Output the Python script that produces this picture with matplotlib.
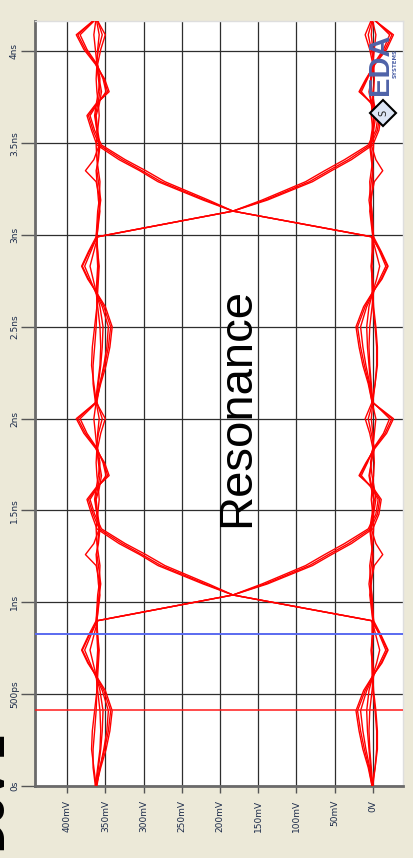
import numpy as np
import matplotlib
matplotlib.use('Agg')
import matplotlib.pyplot as plt
from matplotlib.patches import Polygon

# time knots inside one unit interval (ns)
knot_t = [0.00, 0.10, 0.20, 0.30, 0.41, 0.52, 0.60, 0.67, 0.74, 0.82, 0.90, 1.04, 1.10,
          1.20, 1.26, 1.32, 1.40, 1.48, 1.56, 1.62, 1.69, 1.76, 1.84, 1.92, 2.00, 2.09]
ui = 2.09

high_1 = [362, 365, 368, 367, 364, 361, 360, 359, 358, 360, 362, 360, 358, 357, 359, 361, 362, 360, 358, 359, 361, 362, 361, 360, 358, 362]
high_2 = [363, 360, 357, 356, 357, 360, 362, 361, 360, 361, 361, 358, 357, 362, 376, 365, 358, 361, 364, 362, 359, 357, 360, 356, 350, 362]
high_3 = [362, 356, 349, 344, 341, 350, 362, 373, 381, 372, 362, 358, 356, 359, 361, 360, 358, 361, 363, 360, 357, 359, 361, 363, 365, 362]
high_4 = [361, 357, 352, 348, 346, 354, 363, 370, 377, 369, 361, 357, 359, 361, 362, 359, 357, 360, 362, 358, 355, 358, 362, 359, 354, 361]

low_1 = [1, -3, -6, -6, -4, -1, 0, 1, 2, 0, -1, 1, 3, 4, 2, 0, -1, 0, 2, 1, -1, -2, -1, 0, 2, 0]
low_2 = [0, 2, 4, 5, 4, 1, -1, 0, 1, 0, 0, 2, 3, -2, -13, -4, 2, -1, -4, -2, 1, 3, 0, 4, 10, 1]
low_3 = [1, 6, 13, 18, 22, 12, 0, -12, -20, -11, -1, 3, 5, 2, 0, 1, 3, 0, -2, 1, 4, 2, 0, -2, -4, 1]
low_4 = [0, 4, 9, 13, 16, 8, -1, -9, -17, -9, 0, 4, 2, 0, 0, 2, 4, 1, -1, 2, 5, 2, -2, 2, 6, 0]

fall_1 = [362, 357, 351, 346, 343, 352, 362, 372, 380, 371, 360, 183, 141, 83, 58, 32, 3, -6, -9, 0, 17, 8, -2, -16, -25, 1]
fall_2 = [363, 366, 366, 364, 362, 361, 361, 360, 359, 360, 361, 183, 145, 88, 63, 37, 6, -4, -7, 1, 15, 7, -1, -14, -22, 0]
fall_3 = [362, 359, 356, 354, 353, 357, 362, 366, 370, 365, 360, 183, 138, 79, 54, 28, 0, -8, -11, -1, 18, 9, -3, -18, -27, 1]

rise_1 = [1, 5, 11, 16, 20, 10, 0, -11, -19, -10, 2, 183, 219, 277, 302, 328, 358, 366, 372, 362, 347, 352, 362, 376, 386, 362]
rise_2 = [0, -3, -5, -5, -3, 0, 1, 1, 2, 1, 1, 183, 215, 272, 297, 324, 355, 364, 370, 361, 349, 353, 361, 374, 383, 361]
rise_3 = [1, 3, 5, 7, 8, 5, 0, -5, -9, -4, 1, 183, 222, 281, 305, 332, 361, 368, 374, 363, 345, 351, 363, 378, 388, 362]

traces = [high_1, high_2, high_3, high_4, low_1, low_2, low_3, low_4,
          fall_1, fall_2, fall_3, rise_1, rise_2, rise_3]

v_ticks = [400, 350, 300, 250, 200, 150, 100, 50, 0]
v_labels = ['400mV', '350mV', '300mV', '250mV', '200mV', '150mV', '100mV', '50mV', '0V']
t_ticks = [0, 0.5, 1, 1.5, 2, 2.5, 3, 3.5, 4]
t_labels = ['0s', '500ps', '1ns', '1.5ns', '2ns', '2.5ns', '3ns', '3.5ns', '4ns']

cursor_red = 0.414
cursor_blue = 0.827

W, H = 413, 858
fig = plt.figure(figsize=(W / 100, H / 100), dpi=100, facecolor='#ECE9D8')
ax = fig.add_axes([35 / W, 72 / H, 368 / W, 765 / H])
ax.set_facecolor('white')

t = np.array(knot_t)
for tr in traces:
    for k in range(2):
        ax.plot(tr, t + k * ui, color='#ff0000', lw=1.0, zorder=3)

ax.axhline(cursor_red, color='#ff1a1a', lw=1.1, zorder=4)
ax.axhline(cursor_blue, color='#5a6af0', lw=1.4, zorder=4)

ax.set_xlim(442, -39.5)
ax.set_ylim(0, 4.165)
ax.set_xticks(v_ticks)
ax.set_xticklabels(v_labels)
ax.set_yticks(t_ticks)
ax.set_yticklabels(t_labels)
ax.grid(True, color='#2e2e2e', lw=0.9, zorder=1)
ax.set_axisbelow(True)

ax.tick_params(axis='x', length=5, width=1, color='#555555', pad=5,
               labelsize=6.5, labelcolor='#1C2B4A', labelrotation=90)
ax.tick_params(axis='y', length=10, width=1, color='#555555', pad=1.5,
               labelsize=6.5, labelcolor='#1C2B4A', labelrotation=90)
for lab in ax.get_yticklabels():
    lab.set_va('center')

for s in ['left', 'bottom']:
    ax.spines[s].set_color('#6a6a6a')
    ax.spines[s].set_linewidth(2)
for s in ['top', 'right']:
    ax.spines[s].set_color('#dedede')
    ax.spines[s].set_linewidth(1)

ax.text(178, 2.06, 'Resonance', rotation=90, ha='center', va='center',
        fontsize=34, family='Liberation Sans', color='black', zorder=5)

# logo in the top right corner
fig.text(380 / W, 1 - 64 / H, 'EDA', rotation=90, ha='center', va='center',
         fontsize=21, fontweight='bold', color='#4F63A8', family='Liberation Sans')
fig.text(395 / W, 1 - 63 / H, 'SYSTEMS', rotation=90, ha='center', va='center',
         fontsize=4, fontweight='bold', color='#4F63A8')
cx, cy, r = 383, 113, 13
diamond = Polygon([((cx - r) / W, 1 - cy / H), (cx / W, 1 - (cy - r) / H),
                   ((cx + r) / W, 1 - cy / H), (cx / W, 1 - (cy + r) / H)],
                  closed=True, transform=fig.transFigure, facecolor='#dde6f6',
                  edgecolor='black', lw=1.5, zorder=6)
fig.add_artist(diamond)
fig.text(cx / W, 1 - cy / H, 'S', rotation=90, ha='center', va='center',
         fontsize=7, color='#222222', zorder=7)

# clipped title at bottom left, only the lower part of the letters shows
fig.text(14 / W, 6 / H, 'DoV 2', rotation=90, ha='right', va='bottom',
         fontsize=30, fontweight='bold', color='black', family='Liberation Sans')

fig.savefig('out.png', dpi=100, facecolor=fig.get_facecolor())
